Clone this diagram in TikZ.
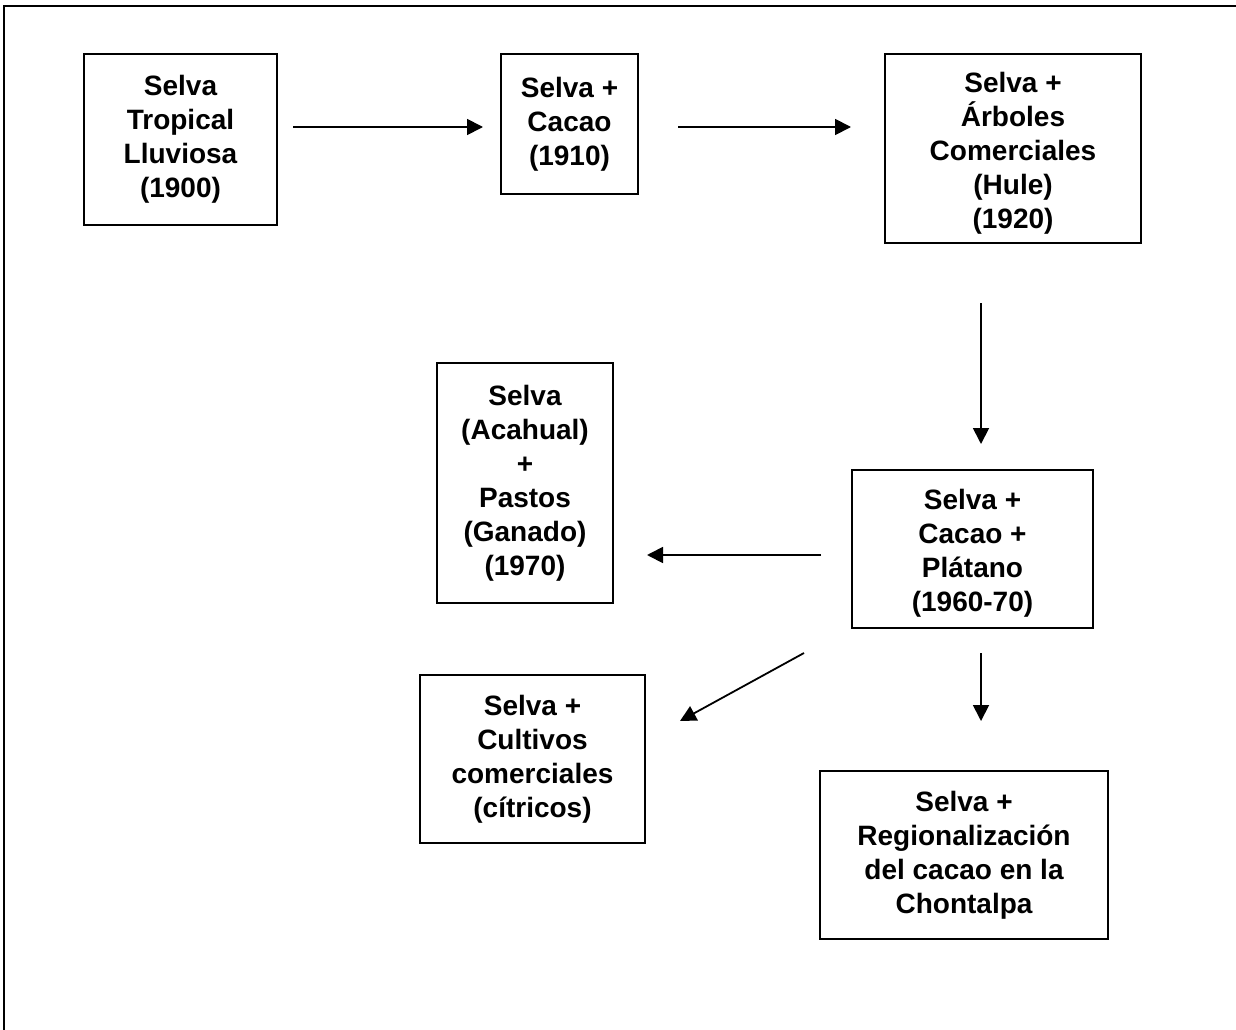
\documentclass[tikz,border=0pt]{standalone}
\usepackage{fontspec}
\setmainfont{Liberation Sans}
\usetikzlibrary{arrows.meta,calc}
\begin{document}
\begin{tikzpicture}[x=1pt,y=-1pt,
  txt/.style={align=center,inner sep=0pt,font=\fontsize{28}{34}\selectfont\bfseries},
  box/.style={draw,line width=2pt,txt},
  arr/.style={line width=1.8pt,-{Triangle[length=16pt,width=16pt]}}]
\useasboundingbox (0,0) rectangle (1236,1030);
\draw[line width=2pt] (4,1040) |- (1240,6);
\node[box,minimum width=193,minimum height=171] (n1) at (180.5,139.5) {Selva\\Tropical\\Lluviosa\\(1900)};
\node[box,minimum width=137,minimum height=140] (n2) at (569.5,124) {Selva +\\Cacao\\(1910)};
\node[box,minimum width=256,minimum height=189] (n3) at (1013,148.5) {};
\node[txt] (t3) at (1013,153) {Selva +\\Árboles\\Comerciales\\(Hule)\\(1920)};
\node[box,minimum width=176,minimum height=240] (n4) at (525,483) {Selva\\(Acahual)\\+\\Pastos\\(Ganado)\\(1970)};
\node[box,minimum width=241,minimum height=158] (n5) at (972.5,549) {};
\node[txt] (t5) at (972.5,553) {Selva +\\Cacao +\\Plátano\\(1960-70)};
\node[box,minimum width=225,minimum height=168] (n6) at (532.5,759) {Selva +\\Cultivos\\comerciales\\(cítricos)};
\node[box,minimum width=288,minimum height=168] (n7) at (964,855) {Selva +\\Regionalización\\del cacao en la\\Chontalpa};
\coordinate (r1) at (0,127);
\coordinate (r3) at (981,0);
\coordinate (r4) at (0,555);
\draw[arr,shorten <=15pt,shorten >=17pt] (n1.east |- r1) -- (n2.west |- r1);
\draw[arr,shorten <=39pt,shorten >=33pt] (n2.east |- r1) -- (n3.west |- r1);
\draw[arr,shorten <=59pt,shorten >=25pt] (n3.south -| r3) -- (n5.north -| r3);
\draw[arr,shorten <=30pt,shorten >=33pt] (n5.west |- r4) -- (n4.east |- r4);
\draw[arr] ($(n5.south west)+(-47,24)$) -- ($(n6.north east)+(34,47)$);
\draw[arr,shorten <=24pt,shorten >=49pt] (n5.south -| r3) -- (n7.north -| r3);
\end{tikzpicture}
\end{document}
